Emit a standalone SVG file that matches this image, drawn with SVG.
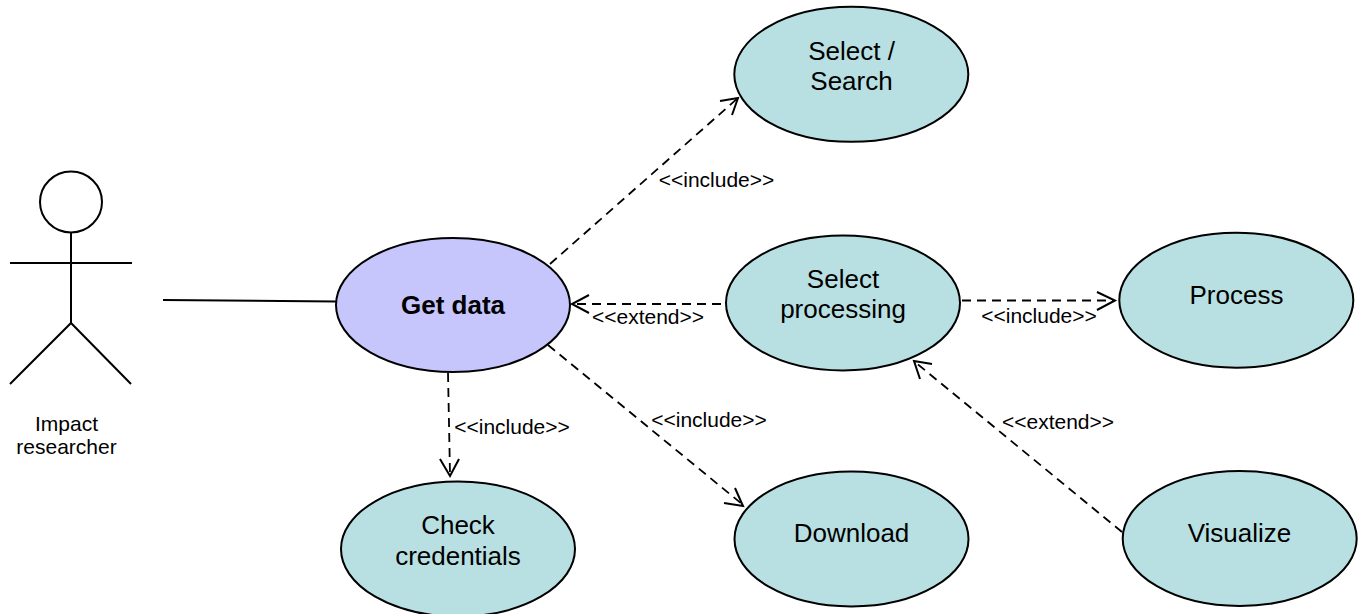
<svg xmlns="http://www.w3.org/2000/svg" width="1362" height="614" viewBox="0 0 1362 614">
<style>
.a{fill:#b8e0e2;stroke:#000;stroke-width:2}
.g{fill:#c6c6fc;stroke:#000;stroke-width:2}
.s{fill:none;stroke:#000;stroke-width:2}
.d{fill:none;stroke:#000;stroke-width:1.8;stroke-dasharray:9 6}
.h{fill:none;stroke:#000;stroke-width:2}
text{font-family:"Liberation Sans",Arial,sans-serif;fill:#000;text-anchor:middle}
.n{font-size:26px}
.b{font-size:26px;font-weight:bold}
.l{font-size:21px}
</style>
<rect width="1362" height="614" fill="#fff"/>
<g id="actor">
<ellipse class="s" cx="71" cy="202" rx="31" ry="30.500"/>
<path class="s" d="M71 233V323M10 263H132M10 384L71 323L131 384"/>
<text class="l" x="66.500" y="431">Impact</text>
<text class="l" x="66.500" y="454">researcher</text>
</g>
<g id="get-data">
<ellipse class="g" cx="453" cy="305" rx="117" ry="67"/>
<text class="b" x="453" y="314">Get data</text>
</g>
<g id="select-search">
<ellipse class="a" cx="851.300" cy="74.300" rx="117" ry="67.500"/>
<text class="n" x="851.500" y="60">Select /</text>
<text class="n" x="851.500" y="90">Search</text>
</g>
<g id="select-processing">
<ellipse class="a" cx="843" cy="303" rx="117" ry="67.500"/>
<text class="n" x="843" y="288">Select</text>
<text class="n" x="843" y="318">processing</text>
</g>
<g id="process">
<ellipse class="a" cx="1236.300" cy="300.200" rx="117" ry="67.500"/>
<text class="n" x="1236.500" y="304">Process</text>
</g>
<g id="check-credentials">
<ellipse class="a" cx="458" cy="549" rx="117" ry="67.500"/>
<text class="n" x="458" y="534">Check</text>
<text class="n" x="458" y="565">credentials</text>
</g>
<g id="download">
<ellipse class="a" cx="851.500" cy="539" rx="117" ry="67.500"/>
<text class="n" x="851.500" y="542">Download</text>
</g>
<g id="visualize">
<ellipse class="a" cx="1239.700" cy="538.500" rx="117" ry="67.500"/>
<text class="n" x="1239.500" y="542">Visualize</text>
</g>
<g id="connectors">
<path class="s" d="M163 300L336 301.500"/>
<path class="d" d="M550 264L738 98"/>
<path class="h" d="M720 101L738 98L732 115"/>
<path class="d" d="M721 304L574 304"/>
<path class="h" d="M589 295L572 304L589 313"/>
<path class="d" d="M962 300.500L1113 300.500"/>
<path class="h" d="M1097 292L1115 300.500L1097 310"/>
<path class="d" d="M448 373L450 474"/>
<path class="h" d="M440 459L450 476L459 459"/>
<path class="d" d="M548 345L742 504"/>
<path class="h" d="M724 503L743 506L735 488"/>
<path class="d" d="M1122 532L915 362"/>
<path class="h" d="M932 364L914 361L920 379"/>
<text class="l" x="716.500" y="187">&lt;&lt;include&gt;&gt;</text>
<text class="l" x="648" y="324">&lt;&lt;extend&gt;&gt;</text>
<text class="l" x="1039" y="323">&lt;&lt;include&gt;&gt;</text>
<text class="l" x="512" y="434">&lt;&lt;include&gt;&gt;</text>
<text class="l" x="709" y="427">&lt;&lt;include&gt;&gt;</text>
<text class="l" x="1058" y="429">&lt;&lt;extend&gt;&gt;</text>
</g>
</svg>
